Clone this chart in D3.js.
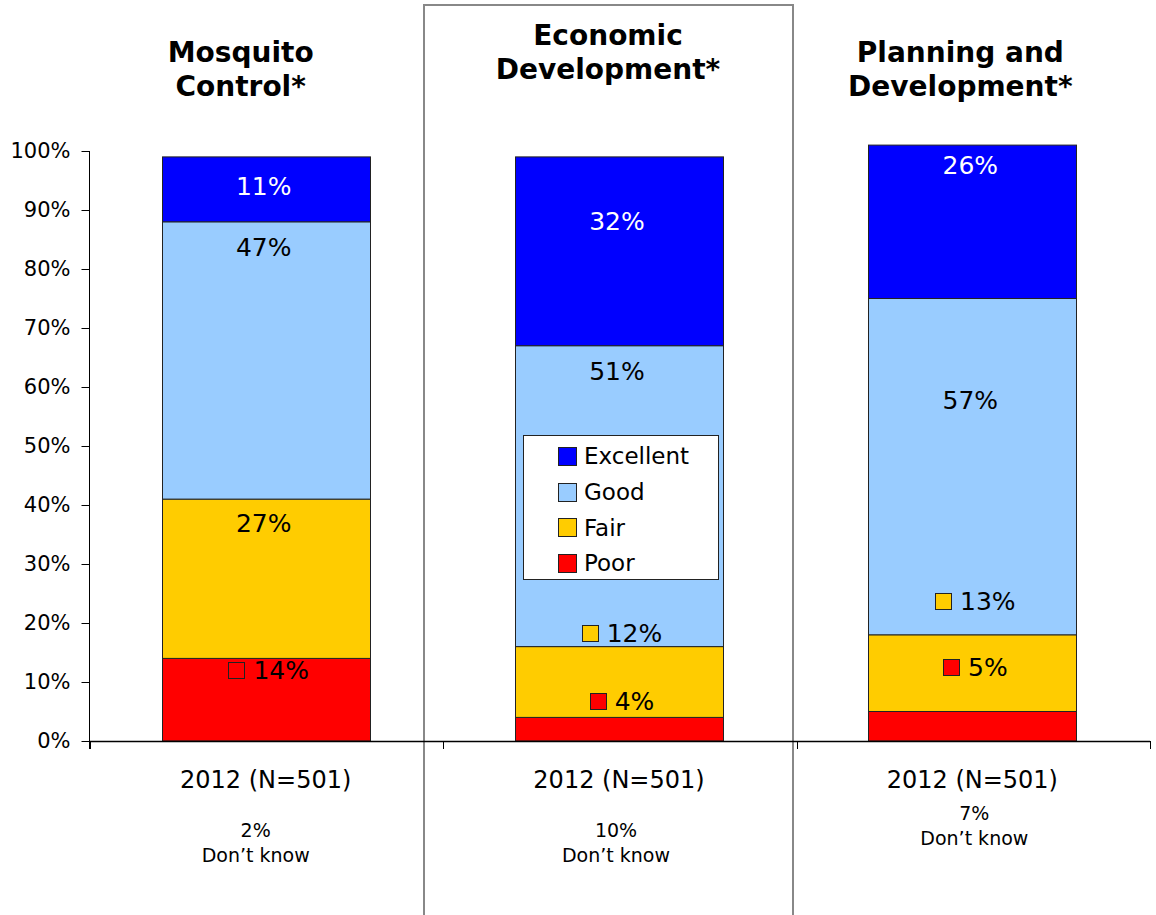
<!DOCTYPE html>
<html><head><meta charset="utf-8">
<script src="https://cdn.jsdelivr.net/npm/d3@7"></script>
<style>
html,body{margin:0;padding:0;background:#fff;}
svg{display:block;font-family:"DejaVu Sans",sans-serif;}
</style></head>
<body>
<svg id="c" width="1156" height="915"></svg>
<script>
// ---- data ----
const categories = ["Mosquito Control*", "Economic Development*", "Planning and Development*"];
const titleLines = [["Mosquito", "Control*"], ["Economic", "Development*"], ["Planning and", "Development*"]];
const seriesNames = ["Poor", "Fair", "Good", "Excellent"];
const poor = [14, 4, 5];
const fair = [27, 12, 13];
const good = [47, 51, 57];
const excellent = [11, 32, 26];
const xLabels = ["2012 (N=501)", "2012 (N=501)", "2012 (N=501)"];
const dontKnow = ["2%", "10%", "7%"];
const yTicks = [0, 10, 20, 30, 40, 50, 60, 70, 80, 90, 100];
const legendOrder = ["Excellent", "Good", "Fair", "Poor"];

// ---- layout / style ----
const colors = {Excellent: "#0000FF", Good: "#99CCFF", Fair: "#FFCC00", Poor: "#FF0000"};
const labelColors = {Excellent: "#fff", Good: "#000", Fair: "#000", Poor: "#000"};
// label anchor in axis units (manually placed as in the original)
const labelAt = {
  Excellent: [94.1, 88.1, 97.6],
  Good: [83.7, 62.7, 57.8],
  Fair: [36.9, 18.3, 23.7],
  Poor: [12.0, 6.8, 12.5]
};
const withKey = {
  Excellent: [false, false, false],
  Good: [false, false, false],
  Fair: [false, true, true],
  Poor: [true, true, true]
};
const titleBase = [62, 45, 62];
const titleDx = [-25, -11, -12];
const dkBase = [837, 837, 820];
const dkDx = [-10, -3, 2];

const svg = d3.select("#c");
const rows = categories.map((c, i) => ({cat: c, Poor: poor[i], Fair: fair[i], Good: good[i], Excellent: excellent[i]}));
const stack = d3.stack().keys(seriesNames)(rows);

const y = d3.scaleLinear().domain([0, 100]).range([741, 151]);
const x = d3.scaleBand().domain(categories).range([89, 1149]).paddingInner(0.411).paddingOuter(0.2055);
const bounds = [0, 1, 2, 3].map(k => 90 + k * (1060 / 3));

// middle panel box
svg.append("rect").attr("x", 424).attr("y", 5).attr("width", 369).attr("height", 930)
  .attr("fill", "none").attr("stroke", "#888").attr("stroke-width", 2);

// bars
stack.forEach(s => {
  svg.append("g").selectAll("rect").data(s).join("rect")
    .attr("x", d => Math.round(x(d.data.cat)) + 0.5)
    .attr("width", Math.round(x.bandwidth()))
    .attr("y", d => y(d[1]))
    .attr("height", d => y(d[0]) - y(d[1]))
    .attr("fill", colors[s.key])
    .attr("stroke", "#222").attr("stroke-width", 1);
});

// y axis
const yAxis = d3.axisLeft(y).tickValues(yTicks).tickFormat(d => d + "%").tickSize(8).tickSizeOuter(0).tickPadding(11);
const ya = svg.append("g").attr("transform", "translate(89.5,0)").call(yAxis);
ya.selectAll("text").attr("font-size", 21).attr("fill", "#000").attr("font-family", "DejaVu Sans");
ya.selectAll("line").attr("stroke", "#000");
ya.select(".domain").attr("stroke", "#000").attr("d", `M0,${y(100)}V${y(0) + 8}`);

// x axis line and separator ticks
svg.append("line").attr("x1", 89.5).attr("x2", 1150).attr("y1", y(0) + 0.5).attr("y2", y(0) + 0.5)
  .attr("stroke", "#000").attr("stroke-width", 1.5);
svg.append("g").selectAll("line").data(bounds).join("line")
  .attr("x1", d => Math.round(d) + 0.5).attr("x2", d => Math.round(d) + 0.5)
  .attr("y1", y(0)).attr("y2", y(0) + 8).attr("stroke", "#000");

// titles and category labels
categories.forEach((c, i) => {
  const cx = x(c) + x.bandwidth() / 2;
  const t = svg.append("text").attr("text-anchor", "middle").attr("font-weight", "bold")
    .attr("font-size", 28).attr("fill", "#000");
  titleLines[i].forEach((ln, k) => {
    t.append("tspan").attr("x", cx + titleDx[i]).attr("y", titleBase[i] + k * 34).text(ln);
  });
  svg.append("text").attr("x", cx).attr("y", 788).attr("text-anchor", "middle")
    .attr("font-size", 24).attr("fill", "#000").text(xLabels[i]);
  svg.append("text").attr("x", cx + dkDx[i]).attr("y", dkBase[i]).attr("text-anchor", "middle")
    .attr("font-size", 19).attr("fill", "#000").text(dontKnow[i]);
  svg.append("text").attr("x", cx + dkDx[i]).attr("y", dkBase[i] + 25).attr("text-anchor", "middle")
    .attr("font-size", 19).attr("fill", "#000").text("Don\u2019t know");
});

// value labels
seriesNames.forEach(key => {
  const vals = {Poor: poor, Fair: fair, Good: good, Excellent: excellent}[key];
  categories.forEach((c, i) => {
    const cx = x(c) + x.bandwidth() / 2;
    const cy = y(labelAt[key][i]);
    const g = svg.append("g");
    const txt = g.append("text").attr("y", cy).attr("dy", "0.36em")
      .attr("font-size", 25).attr("fill", labelColors[key]).text(vals[i] + "%");
    if (withKey[key][i]) {
      const w = txt.node().getComputedTextLength();
      const sq = 16, gap = 9;
      const total = sq + gap + w;
      const left = cx + 3 - total / 2;
      g.append("rect").attr("x", Math.round(left) + 0.5).attr("y", Math.round(cy - sq / 2) + 0.5)
        .attr("width", sq).attr("height", sq).attr("fill", colors[key]).attr("stroke", "#222");
      txt.attr("x", left + sq + gap);
    } else {
      txt.attr("x", cx - 2).attr("text-anchor", "middle");
    }
  });
});

// legend
const lg = svg.append("g");
lg.append("rect").attr("x", 523.5).attr("y", 435.5).attr("width", 195).attr("height", 144)
  .attr("fill", "#fff").attr("stroke", "#222");
legendOrder.forEach((k, j) => {
  const cy = 456 + j * 35.7;
  lg.append("rect").attr("x", 558.5).attr("y", Math.round(cy - 9) + 0.5).attr("width", 18).attr("height", 18)
    .attr("fill", colors[k]).attr("stroke", "#222");
  lg.append("text").attr("x", 584).attr("y", cy).attr("dy", "0.36em").attr("font-size", 23)
    .attr("fill", "#000").text(k);
});
</script>
</body></html>
